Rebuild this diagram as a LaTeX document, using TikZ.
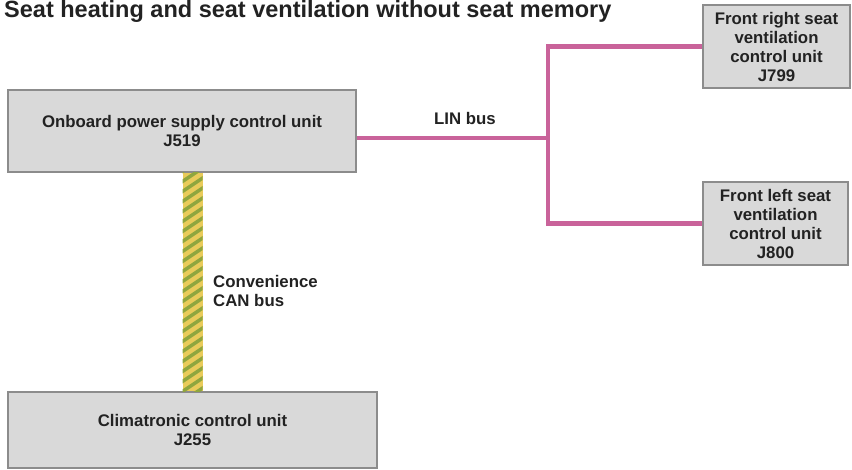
\documentclass[tikz,border=0pt]{standalone}
\usepackage{fontspec}
\setmainfont{Liberation Sans}
\usetikzlibrary{positioning,calc}

\definecolor{boxgray}{HTML}{D9D9D9}
\definecolor{rimgray}{HTML}{8C8C8C}
\definecolor{linpink}{HTML}{C9639A}
\definecolor{canyellow}{HTML}{E9CB5A}
\definecolor{cangreen}{HTML}{8FA63E}
\definecolor{inkdark}{HTML}{222222}

\begin{document}
\begin{tikzpicture}[
  x=1pt, y=-1pt,
  font=\fontsize{16.8}{19}\selectfont\bfseries,
  text=inkdark,
  unit/.style={draw=rimgray, line width=1.6pt, fill=boxgray, align=center, inner sep=0pt},
  lin/.style={draw=linpink, line width=4.5pt},
  lbl/.style={align=left, inner sep=0pt}
]
  \useasboundingbox (0,0) rectangle (852,470);

  \node[anchor=base west, inner sep=0pt, font=\fontsize{23.5}{26}\selectfont\bfseries] (title) at (4,17.5)
    {Seat heating and seat ventilation without seat memory};

  \node[unit, minimum width=348pt, minimum height=82pt] (j519) at (182,131)
    {Onboard power supply control unit\\J519};
  \node[unit, minimum width=369pt, minimum height=76pt] (j255) at (192.5,430)
    {Climatronic control unit\\J255};
  \node[unit, minimum width=147pt, minimum height=83pt] (j799) at (776.5,46.5)
    {Front right seat\\ventilation\\control unit\\J799};
  \node[unit, minimum width=145pt, minimum height=83pt] (j800) at (775.5,223.5)
    {Front left seat\\ventilation\\control unit\\J800};

  % CAN bus, yellow/green twisted pair
  \coordinate (cantop) at (j519.south -| j255.north);
  \fill[canyellow] ([xshift=-10pt]cantop) rectangle ([xshift=10pt]j255.north);
  \begin{scope}
    \clip ([xshift=-10pt]cantop) rectangle ([xshift=10pt]j255.north);
    \foreach \y in {0,10,...,240}
      \draw[cangreen, line width=3.5pt] ([shift={(-12,\y)}]cantop) -- ([shift={(12,\y-16)}]cantop);
  \end{scope}
  \node[lbl, anchor=west] (canlbl) at (213,291) {Convenience\\CAN bus};

  % LIN bus
  \coordinate (junction) at (548,138);
  \draw[lin] (j519.east |- junction) -- (junction);
  \draw[lin] (j799.west) -| (junction) |- (j800.west);
  \node[lbl] (linlbl) at (465,118) {LIN bus};
\end{tikzpicture}
\end{document}
